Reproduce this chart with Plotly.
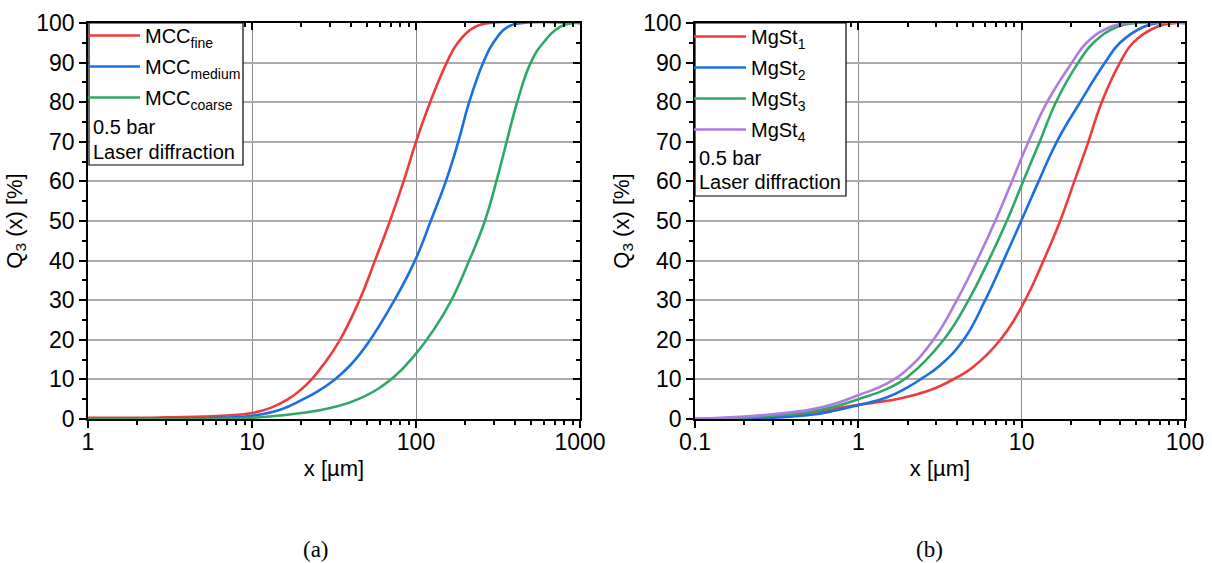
import plotly.graph_objects as go

# ---------------- data ----------------
# Panel (a): MCC grades, x in µm, Q3 in %
mcc_fine_x = [1, 2, 3, 5, 7, 10, 13, 16.6, 20, 23.1, 27, 34.4, 45.2, 56.2, 69.4, 84, 100, 122, 154, 180, 229, 282, 1000]
mcc_fine_q = [0.3, 0.3, 0.4, 0.6, 0.9, 1.5, 2.8, 5, 7.5, 10, 13.5, 20, 30, 40, 50, 60, 70, 80, 90, 95, 99, 100, 100]

mcc_medium_x = [1, 3, 5, 7, 10, 15, 20.5, 25, 32, 40, 51, 72.7, 98.6, 123, 152, 181, 211, 257, 296, 363, 450, 1000]
mcc_medium_q = [0.05, 0.1, 0.2, 0.35, 0.8, 2.4, 5, 6.9, 10, 13.7, 19.2, 29.5, 40, 50, 60, 70, 80, 90, 95, 99, 100, 100]

mcc_coarse_x = [1, 5, 7, 10, 15, 20, 30, 45.6, 72.7, 100, 128, 162, 211, 263, 309, 357, 414, 501, 597, 755, 906, 1000]
mcc_coarse_q = [0, 0, 0.1, 0.3, 0.9, 1.5, 2.8, 5.2, 10.5, 16.5, 22.5, 29.5, 40, 50, 60, 70, 80, 90, 95, 99, 100, 100]

# Panel (b): MgSt grades
mgst1_x = [0.1, 0.15, 0.2, 0.3, 0.5, 0.7, 1, 1.5, 2, 3, 4, 5, 7.4, 10.5, 13.6, 17.2, 21, 25.6, 30.9, 40, 48, 67, 89, 100]
mgst1_q = [0, 0.1, 0.3, 0.8, 1.6, 2.5, 3.6, 4.6, 5.6, 7.9, 10.5, 13, 20, 30, 40, 50, 60, 70, 80, 90, 95, 99, 100, 100]

mgst2_x = [0.1, 0.2, 0.3, 0.5, 0.7, 1, 1.5, 2, 2.44, 3.16, 4.41, 5.98, 7.74, 9.93, 12.7, 16.4, 22.8, 32.4, 40, 55.6, 70, 100]
mgst2_q = [0, 0.05, 0.3, 1.0, 2.0, 3.5, 5.5, 8.0, 10.2, 13.5, 20, 30, 40, 50, 60, 70, 80, 90, 95, 99, 100, 100]

mgst3_x = [0.1, 0.2, 0.3, 0.5, 0.7, 1, 1.5, 2, 3.33, 4.73, 6.27, 8.11, 10.2, 12.9, 16.2, 22.2, 27.5, 38.2, 50.8, 100]
mgst3_q = [0, 0.4, 0.9, 1.8, 3.0, 5.0, 7.6, 10.6, 20, 30, 40, 50, 60, 70, 80, 90, 95, 99, 100, 100]

mgst4_x = [0.1, 0.2, 0.3, 0.5, 0.7, 1, 1.5, 2, 2.88, 4.01, 5.32, 6.89, 8.71, 11.0, 14.3, 20.3, 25, 34.8, 46, 100]
mgst4_q = [0, 0.6, 1.2, 2.3, 3.7, 6.0, 9.0, 12.6, 20, 30, 40, 50, 60, 70, 80, 90, 95, 99, 100, 100]

# tick labels
a_xticks = [1, 10, 100, 1000]
a_xticktext = ["1", "10", "100", "1000"]
b_xticks = [0.1, 1, 10, 100]
b_xticktext = ["0.1", "1", "10", "100"]
a_minor = [k * d for d in a_xticks[:-1] for k in range(2, 10)]
b_minor = [k * d for d in b_xticks[:-1] for k in range(2, 10)]

names_a = ["MCC<sub>fine</sub>", "MCC<sub>medium</sub>", "MCC<sub>coarse</sub>"]
names_b = ["MgSt<sub>1</sub>", "MgSt<sub>2</sub>", "MgSt<sub>3</sub>", "MgSt<sub>4</sub>"]
note_lines = ["0.5 bar", "Laser diffraction"]

# ---------------- style ----------------
RED = "#EE3B3B"
BLUE = "#1B6FE0"
GREEN = "#2FA866"
PURPLE = "#AE7CE0"
FONT = "Liberation Sans"
W, H = 1212, 563
ML, MR, MT, MB = 88, 27, 23, 144
PW, PH = W - ML - MR, H - MT - MB


def px2x(px):
    return (px - ML) / PW


def py2y(py):
    return (H - MB - py) / PH


fig = go.Figure()

series_a = [(mcc_fine_x, mcc_fine_q, RED), (mcc_medium_x, mcc_medium_q, BLUE), (mcc_coarse_x, mcc_coarse_q, GREEN)]
for i, (xs, qs, c) in enumerate(series_a):
    fig.add_trace(go.Scatter(x=xs, y=qs, mode="lines", name=names_a[i],
                             line=dict(color=c, width=2.6, shape="spline", smoothing=1.3),
                             xaxis="x", yaxis="y", legend="legend", legendgroup="a%d" % i))

series_b = [(mgst1_x, mgst1_q, RED), (mgst2_x, mgst2_q, BLUE), (mgst3_x, mgst3_q, GREEN), (mgst4_x, mgst4_q, PURPLE)]
for i, (xs, qs, c) in enumerate(series_b):
    fig.add_trace(go.Scatter(x=xs, y=qs, mode="lines", name=names_b[i],
                             line=dict(color=c, width=2.6, shape="spline", smoothing=1.3),
                             xaxis="x2", yaxis="y2", legend="legend2", legendgroup="b%d" % i))

# empty traces so that the mirrored (top/right) axes get drawn
for xa, ya in [("x3", "y"), ("x", "y3"), ("x4", "y2"), ("x2", "y4")]:
    fig.add_trace(go.Scatter(x=[], y=[], xaxis=xa, yaxis=ya, showlegend=False, hoverinfo="skip"))

tickfont = dict(family=FONT, size=23, color="black")
titlefont = dict(family=FONT, size=22, color="black")

dom_a = [0, px2x(580)]
dom_b = [px2x(695), 1]


def xaxis_main(dom, rng, tv, tt, minor_vals, anchor):
    return dict(domain=dom, type="log", range=rng, anchor=anchor,
                tickmode="array", tickvals=tv, ticktext=tt, ticks="outside", ticklen=7, tickwidth=1.5,
                tickcolor="black", tickfont=tickfont, ticklabelstandoff=-5,
                showline=True, linecolor="black", linewidth=1.5, mirror=False,
                showgrid=True, gridcolor="#8c8c8c", gridwidth=1, zeroline=False,
                minor=dict(tickmode="array", tickvals=minor_vals, ticks="outside", ticklen=4,
                           tickwidth=1.5, tickcolor="black", showgrid=False),
                title=dict(text="x [µm]", font=titlefont, standoff=6))


def xaxis_top(rng, tv, minor_vals, over, anchor):
    return dict(type="log", range=rng, overlaying=over, anchor=anchor, side="top",
                tickmode="array", tickvals=tv, ticks="inside", ticklen=7, tickwidth=1.5,
                tickcolor="black", showticklabels=False,
                showline=True, linecolor="black", linewidth=1.5, showgrid=False, zeroline=False,
                minor=dict(tickmode="array", tickvals=minor_vals, ticks="inside", ticklen=4,
                           tickwidth=1.5, tickcolor="black", showgrid=False))


def yaxis_main(anchor):
    return dict(domain=[0, 1], range=[0, 100], anchor=anchor, tickmode="linear", tick0=0, dtick=10,
                ticks="outside", ticklen=7, tickwidth=1.5, tickcolor="black", tickfont=tickfont,
                showline=True, linecolor="black", linewidth=1.5,
                showgrid=True, gridcolor="#ababab", gridwidth=1.5, zeroline=False,
                minor=dict(dtick=5, tick0=0, ticks="outside", ticklen=4, tickwidth=1.5,
                           tickcolor="black", showgrid=False),
                title=dict(text="Q<sub>3</sub> (x) [%]", font=titlefont, standoff=8))


def yaxis_right(over, anchor):
    return dict(range=[0, 100], overlaying=over, anchor=anchor, side="right",
                tickmode="linear", tick0=0, dtick=10, ticks="inside", ticklen=7, tickwidth=1.5,
                tickcolor="black", showticklabels=False,
                showline=True, linecolor="black", linewidth=1.5, showgrid=False, zeroline=False,
                minor=dict(dtick=5, tick0=0, ticks="inside", ticklen=4, tickwidth=1.5,
                           tickcolor="black", showgrid=False))


legend_font = dict(family=FONT, size=20, color="black")
fig.update_layout(
    width=W, height=H,
    margin=dict(l=ML, r=MR, t=MT, b=MB, autoexpand=False),
    paper_bgcolor="white", plot_bgcolor="white",
    font=dict(family=FONT, color="black"),
    xaxis=xaxis_main(dom_a, [0, 3], a_xticks, a_xticktext, a_minor, "y"),
    yaxis=yaxis_main("x"),
    xaxis2=xaxis_main(dom_b, [-1, 2], b_xticks, b_xticktext, b_minor, "y2"),
    yaxis2=yaxis_main("x2"),
    xaxis3=xaxis_top([0, 3], a_xticks, a_minor, "x", "y"),
    yaxis3=yaxis_right("y", "x"),
    xaxis4=xaxis_top([-1, 2], b_xticks, b_minor, "x2", "y2"),
    yaxis4=yaxis_right("y2", "x2"),
    legend=dict(x=px2x(83), y=py2y(16), xanchor="left", yanchor="top", bgcolor="rgba(0,0,0,0)",
                borderwidth=0, font=legend_font,
                traceorder="grouped", tracegroupgap=2, itemwidth=52),
    legend2=dict(x=px2x(689), y=py2y(17), xanchor="left", yanchor="top", bgcolor="rgba(0,0,0,0)",
                 borderwidth=0, font=legend_font,
                 traceorder="grouped", tracegroupgap=2, itemwidth=52),
    showlegend=True,
)

# legend frames (white, opaque, black border)
shapes = [
    dict(type="rect", xref="paper", yref="paper", x0=px2x(89), x1=px2x(243), y0=py2y(165), y1=py2y(23),
         line=dict(color="black", width=1.2), fillcolor="white", layer="above"),
    dict(type="rect", xref="paper", yref="paper", x0=px2x(695), x1=px2x(846), y0=py2y(196), y1=py2y(23),
         line=dict(color="black", width=1.2), fillcolor="white", layer="above"),
]
fig.update_layout(shapes=shapes)

ann = []
for lx, ys in [(91, (127, 152)), (697, (158, 182))]:
    for txt, yy in zip(note_lines, ys):
        ann.append(dict(text=txt, xref="paper", yref="paper", x=px2x(lx), y=py2y(yy),
                        xanchor="left", yanchor="middle", showarrow=False,
                        font=dict(family=FONT, size=20, color="black")))
for txt, cx in [("(a)", 316), ("(b)", 929)]:
    ann.append(dict(text=txt, xref="paper", yref="paper", x=px2x(cx), y=py2y(549),
                    xanchor="center", yanchor="middle", showarrow=False,
                    font=dict(family="Liberation Serif", size=23, color="black")))
fig.update_layout(annotations=ann)

fig.write_html("out.html")
